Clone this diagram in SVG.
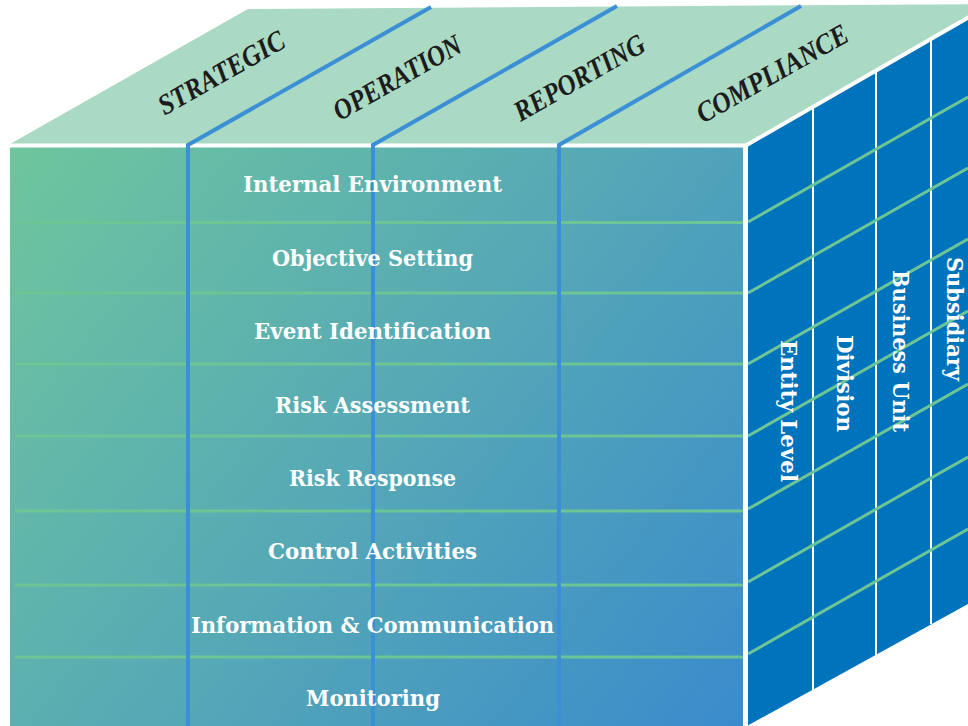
<svg xmlns="http://www.w3.org/2000/svg" width="968" height="726" viewBox="0 0 968 726">
<defs>
<linearGradient id="frontGrad" gradientUnits="userSpaceOnUse" x1="10" y1="147" x2="743" y2="726">
<stop offset="0" stop-color="#6ec69d"/>
<stop offset="0.5" stop-color="#56a9b5"/>
<stop offset="1" stop-color="#3a8bcc"/>
</linearGradient>
<style>
.green{stroke:#6dc495;stroke-width:3;fill:none}
.blue{stroke:#3a8fd5;stroke-width:4;fill:none;stroke-linejoin:miter}
.white{stroke:#ffffff;fill:none}
.ft{font-family:"DejaVu Serif","Liberation Serif",serif;font-weight:bold;font-size:22px;fill:#ffffff;text-anchor:middle}
.rt{font-family:"DejaVu Serif","Liberation Serif",serif;font-weight:bold;font-size:23px;fill:#ffffff}
.tt{font-family:"Liberation Serif","DejaVu Serif",serif;font-weight:bold;font-style:italic;font-size:29px;fill:#1c1c1c;text-anchor:middle}
</style>
</defs>
<rect width="968" height="726" fill="#ffffff"/>

<g id="top-face">
<polygon points="10,144 248,9 990,4 990,6 745,144" fill="#aad9c4"/>
<text class="tt" transform="translate(226,81) rotate(-29.5)" textLength="141" lengthAdjust="spacingAndGlyphs">STRATEGIC</text>
<text class="tt" transform="translate(402,86) rotate(-29.5)" textLength="143" lengthAdjust="spacingAndGlyphs">OPERATION</text>
<text class="tt" transform="translate(584,86) rotate(-29.5)" textLength="146" lengthAdjust="spacingAndGlyphs">REPORTING</text>
<text class="tt" transform="translate(777,82) rotate(-29.5)" textLength="170" lengthAdjust="spacingAndGlyphs">COMPLIANCE</text>
</g>

<g id="front-face">
<rect x="10" y="147" width="733" height="579" fill="url(#frontGrad)"/>
<g id="front-grid">
<line class="green" x1="15" y1="222.5" x2="743" y2="222.5"/>
<line class="green" x1="15" y1="293" x2="743" y2="293"/>
<line class="green" x1="15" y1="364" x2="743" y2="364"/>
<line class="green" x1="15" y1="436" x2="743" y2="436"/>
<line class="green" x1="15" y1="511" x2="743" y2="511"/>
<line class="green" x1="15" y1="585" x2="743" y2="585"/>
<line class="green" x1="15" y1="657" x2="743" y2="657"/>
</g>
</g>

<g id="right-face">
<polygon points="745,146 990,6 990,592 745,727" fill="#0073bd"/>
<g id="right-grid">
<line class="white" stroke-width="2" x1="813" y1="108" x2="813" y2="690"/>
<line class="white" stroke-width="2" x1="876" y1="72" x2="876" y2="655"/>
<line class="white" stroke-width="2" x1="931" y1="40" x2="931" y2="624"/>
<line class="green" x1="748" y1="222" x2="968" y2="97"/>
<line class="green" x1="748" y1="293" x2="968" y2="168"/>
<line class="green" x1="748" y1="364" x2="968" y2="239"/>
<line class="green" x1="748" y1="436" x2="968" y2="311"/>
<line class="green" x1="748" y1="509" x2="968" y2="384"/>
<line class="green" x1="748" y1="582" x2="968" y2="457"/>
<line class="green" x1="748" y1="654" x2="968" y2="529"/>
</g>
</g>

<g id="edges">
<line class="white" stroke-width="4" x1="8" y1="145.5" x2="747" y2="145.5"/>
<line class="white" stroke-width="4" x1="745" y1="146" x2="990" y2="5"/>
<line class="white" stroke-width="5" x1="745.5" y1="144" x2="745.5" y2="726"/>
</g>

<g id="connectors">
<polyline class="blue" points="431,7 188,145 188,726"/>
<polyline class="blue" points="617,6 373,145 373,726"/>
<polyline class="blue" points="801,6 559,145 559,726"/>
</g>

<g id="row-labels">
<text class="ft" x="372.5" y="192" textLength="259" lengthAdjust="spacingAndGlyphs">Internal Environment</text>
<text class="ft" x="372.5" y="266" textLength="201" lengthAdjust="spacingAndGlyphs">Objective Setting</text>
<text class="ft" x="372.5" y="339" textLength="237" lengthAdjust="spacingAndGlyphs">Event Identification</text>
<text class="ft" x="372.5" y="413" textLength="195" lengthAdjust="spacingAndGlyphs">Risk Assessment</text>
<text class="ft" x="372.5" y="486" textLength="167" lengthAdjust="spacingAndGlyphs">Risk Response</text>
<text class="ft" x="372.5" y="559" textLength="209" lengthAdjust="spacingAndGlyphs">Control Activities</text>
<text class="ft" x="372.5" y="633" textLength="363" lengthAdjust="spacingAndGlyphs">Information &amp; Communication</text>
<text class="ft" x="373" y="706" textLength="134" lengthAdjust="spacingAndGlyphs">Monitoring</text>
</g>

<g id="column-labels">
<text class="rt" transform="translate(781,340) rotate(90)" textLength="142" lengthAdjust="spacingAndGlyphs">Entity Level</text>
<text class="rt" transform="translate(837,335) rotate(90)" textLength="97" lengthAdjust="spacingAndGlyphs">Division</text>
<text class="rt" transform="translate(893,270) rotate(90)" textLength="162" lengthAdjust="spacingAndGlyphs">Business Unit</text>
<text class="rt" transform="translate(947,257) rotate(90)" textLength="124" lengthAdjust="spacingAndGlyphs">Subsidiary</text>
</g>
</svg>
